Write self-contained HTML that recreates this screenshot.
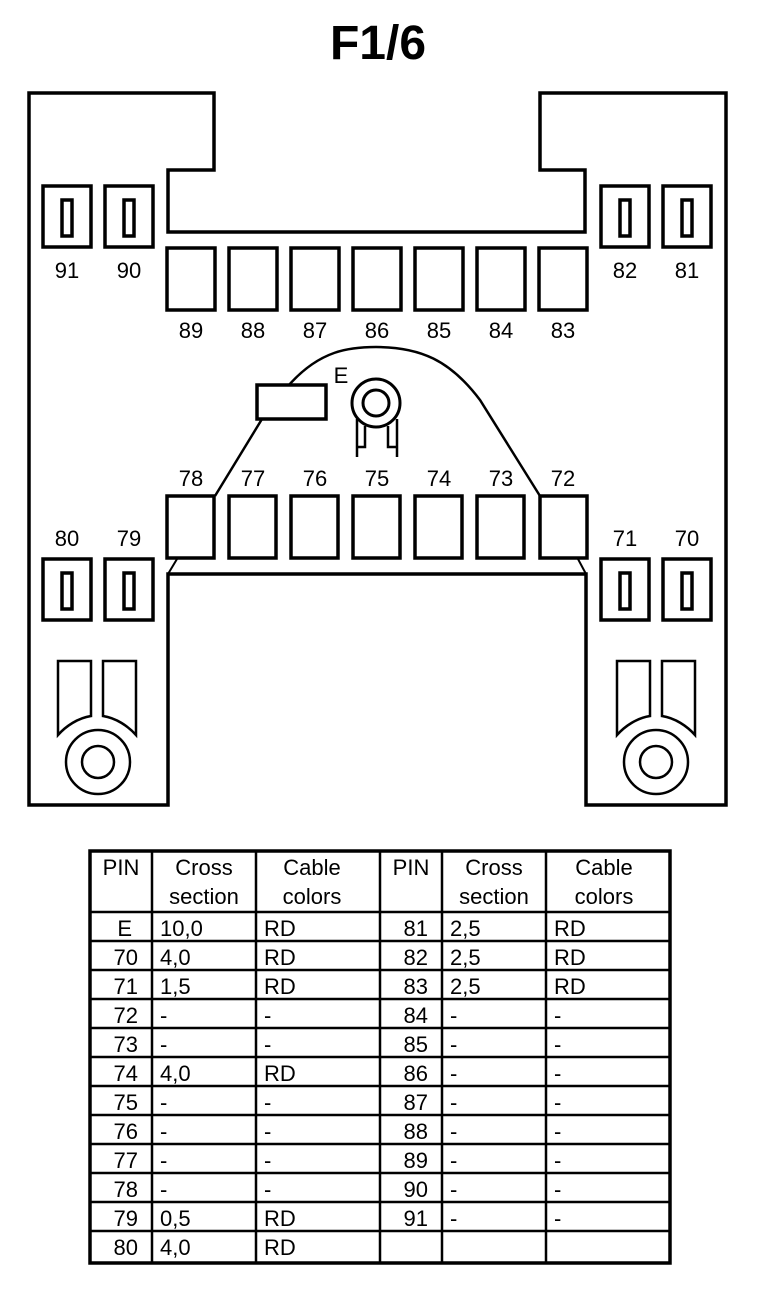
<!DOCTYPE html>
<html><head><style>
body{margin:0;background:#fff;width:768px;height:1298px;overflow:hidden}
svg text{font-family:"Liberation Sans",Arial,sans-serif}
</style></head><body>
<svg width="768" height="1298" viewBox="0 0 768 1298" xmlns="http://www.w3.org/2000/svg">
<text x="378" y="59" font-size="48" font-weight="bold" text-anchor="middle">F1/6</text>
<g fill="none" stroke="#000" stroke-width="3.5">
<path d="M29,93 H214 V170 H168 V232 H585 V170 H540 V93 H726 V805 H586 V574 H168 V805 H29 Z"/>
<rect x="43" y="186" width="48" height="61"/><rect x="62" y="200" width="10" height="36"/>
<rect x="105" y="186" width="48" height="61"/><rect x="124" y="200" width="10" height="36"/>
<rect x="601" y="186" width="48" height="61"/><rect x="620" y="200" width="10" height="36"/>
<rect x="663" y="186" width="48" height="61"/><rect x="682" y="200" width="10" height="36"/>
<rect x="43" y="559" width="48" height="61"/><rect x="62" y="573" width="10" height="36"/>
<rect x="105" y="559" width="48" height="61"/><rect x="124" y="573" width="10" height="36"/>
<rect x="601" y="559" width="48" height="61"/><rect x="620" y="573" width="10" height="36"/>
<rect x="663" y="559" width="48" height="61"/><rect x="682" y="573" width="10" height="36"/>
<rect x="167" y="248" width="48" height="62"/><rect x="229" y="248" width="48" height="62"/>
<rect x="291" y="248" width="48" height="62"/><rect x="353" y="248" width="48" height="62"/>
<rect x="415" y="248" width="48" height="62"/><rect x="477" y="248" width="48" height="62"/>
<rect x="539" y="248" width="48" height="62"/>
<rect x="167" y="496" width="47" height="62"/><rect x="229" y="496" width="47" height="62"/>
<rect x="291" y="496" width="47" height="62"/><rect x="353" y="496" width="47" height="62"/>
<rect x="415" y="496" width="47" height="62"/><rect x="477" y="496" width="47" height="62"/>
<rect x="540" y="496" width="47" height="62"/>
<path d="M177,559 L168,574 M578,559 L586,574" stroke-width="2"/>
<path d="M215,496 L262,419 M289,385 C320,350 350,347 376,347 C420,347 450,360 480,400 L540,496" stroke-width="2.5"/>
<rect x="257" y="385" width="69" height="34"/>
<circle cx="376" cy="403" r="24" stroke-width="3"/>
<circle cx="376" cy="403" r="13" stroke-width="3"/>
<path d="M357,419 V457 M397,419 V457 M365,426 V447 H357 M388,426 V447 H397" stroke-width="2.5"/>
<path d="M58,661 H91 V716 C78,718 66,726 58,735 Z" stroke-width="2.5"/>
<path d="M103,661 H136 V735 C128,726 116,718 103,716 Z" stroke-width="2.5"/>
<circle cx="98" cy="762" r="32" stroke-width="2.5"/><circle cx="98" cy="762" r="16" stroke-width="2.5"/>
<path d="M617,661 H650 V716 C637,718 625,726 617,735 Z" stroke-width="2.5"/>
<path d="M662,661 H695 V735 C687,726 675,718 662,716 Z" stroke-width="2.5"/>
<circle cx="656" cy="762" r="32" stroke-width="2.5"/><circle cx="656" cy="762" r="16" stroke-width="2.5"/>
</g>
<g font-size="22" text-anchor="middle">
<text x="67" y="278">91</text><text x="129" y="278">90</text><text x="625" y="278">82</text><text x="687" y="278">81</text>
<text x="191" y="338">89</text><text x="253" y="338">88</text><text x="315" y="338">87</text><text x="377" y="338">86</text><text x="439" y="338">85</text><text x="501" y="338">84</text><text x="563" y="338">83</text>
<text x="191" y="486">78</text><text x="253" y="486">77</text><text x="315" y="486">76</text><text x="377" y="486">75</text><text x="439" y="486">74</text><text x="501" y="486">73</text><text x="563" y="486">72</text>
<text x="67" y="546">80</text><text x="129" y="546">79</text><text x="625" y="546">71</text><text x="687" y="546">70</text>
<text x="341" y="383">E</text>
</g>
<g stroke="#000" fill="none">
<rect x="90" y="851" width="580" height="412" stroke-width="3.5"/>
<g stroke-width="2.5">
<path d="M152,851V1263 M256,851V1263 M380,851V1263 M442,851V1263 M546,851V1263"/>
<path d="M90,912H670 M90,941H670 M90,970H670 M90,999H670 M90,1028H670 M90,1057H670 M90,1086H670 M90,1115H670 M90,1144H670 M90,1173H670 M90,1202H670 M90,1231H670"/>
</g></g>
<g font-size="22">
<g text-anchor="middle">
<text x="121" y="875">PIN</text><text x="204" y="875">Cross</text><text x="204" y="904">section</text><text x="312" y="875">Cable</text><text x="312" y="904">colors</text>
<text x="411" y="875">PIN</text><text x="494" y="875">Cross</text><text x="494" y="904">section</text><text x="604" y="875">Cable</text><text x="604" y="904">colors</text>
</g>
<g text-anchor="end">
<text x="132" y="936">E</text><text x="138" y="965">70</text><text x="138" y="994">71</text><text x="138" y="1023">72</text><text x="138" y="1052">73</text><text x="138" y="1081">74</text><text x="138" y="1110">75</text><text x="138" y="1139">76</text><text x="138" y="1168">77</text><text x="138" y="1197">78</text><text x="138" y="1226">79</text><text x="138" y="1255">80</text>
<text x="428" y="936">81</text><text x="428" y="965">82</text><text x="428" y="994">83</text><text x="428" y="1023">84</text><text x="428" y="1052">85</text><text x="428" y="1081">86</text><text x="428" y="1110">87</text><text x="428" y="1139">88</text><text x="428" y="1168">89</text><text x="428" y="1197">90</text><text x="428" y="1226">91</text>
</g>
<g>
<text x="160" y="936">10,0</text><text x="160" y="965">4,0</text><text x="160" y="994">1,5</text><text x="160" y="1023">-</text><text x="160" y="1052">-</text><text x="160" y="1081">4,0</text><text x="160" y="1110">-</text><text x="160" y="1139">-</text><text x="160" y="1168">-</text><text x="160" y="1197">-</text><text x="160" y="1226">0,5</text><text x="160" y="1255">4,0</text>
<text x="264" y="936">RD</text><text x="264" y="965">RD</text><text x="264" y="994">RD</text><text x="264" y="1023">-</text><text x="264" y="1052">-</text><text x="264" y="1081">RD</text><text x="264" y="1110">-</text><text x="264" y="1139">-</text><text x="264" y="1168">-</text><text x="264" y="1197">-</text><text x="264" y="1226">RD</text><text x="264" y="1255">RD</text>
<text x="450" y="936">2,5</text><text x="450" y="965">2,5</text><text x="450" y="994">2,5</text><text x="450" y="1023">-</text><text x="450" y="1052">-</text><text x="450" y="1081">-</text><text x="450" y="1110">-</text><text x="450" y="1139">-</text><text x="450" y="1168">-</text><text x="450" y="1197">-</text><text x="450" y="1226">-</text>
<text x="554" y="936">RD</text><text x="554" y="965">RD</text><text x="554" y="994">RD</text><text x="554" y="1023">-</text><text x="554" y="1052">-</text><text x="554" y="1081">-</text><text x="554" y="1110">-</text><text x="554" y="1139">-</text><text x="554" y="1168">-</text><text x="554" y="1197">-</text><text x="554" y="1226">-</text>
</g></g>
</svg>
</body></html>
